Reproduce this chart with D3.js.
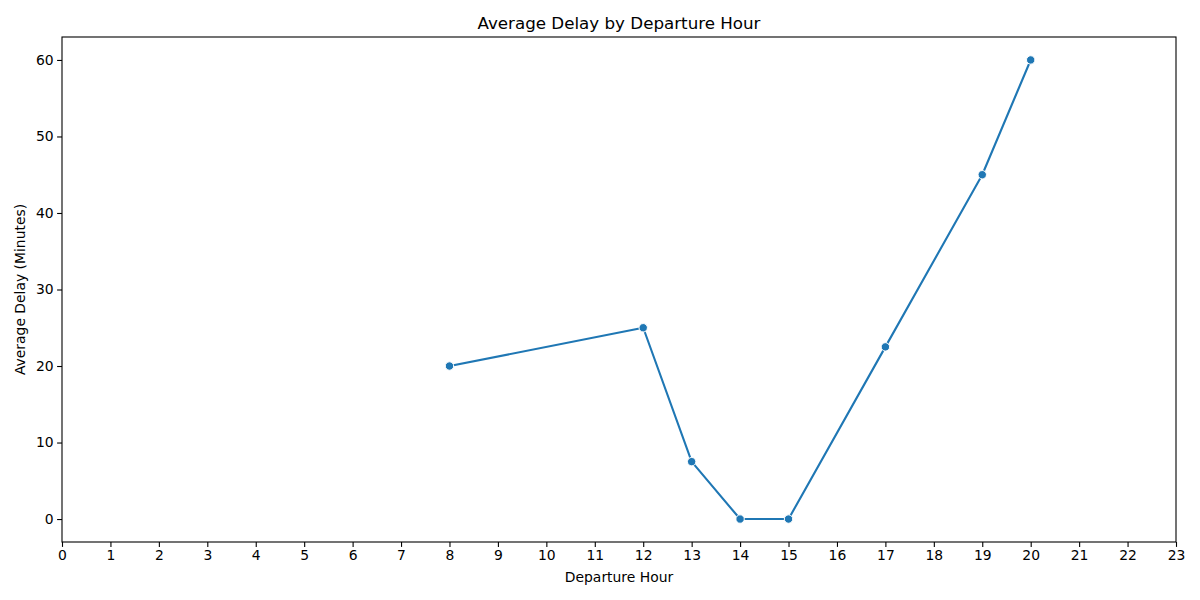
<!DOCTYPE html>
<html>
<head>
<meta charset="utf-8">
<script src="https://cdn.jsdelivr.net/npm/d3@7"></script>
<style>
  body { margin: 0; background: #fff; }
  svg { font-family: "DejaVu Sans", sans-serif; }
</style>
</head>
<body>
<script>
// data
const hours = [8, 12, 13, 14, 15, 17, 19, 20];
const delays = [20, 25, 7.5, 0, 0, 22.5, 45, 60];
const xTicks = d3.range(0, 24);
const yTicks = [0, 10, 20, 30, 40, 50, 60];

const width = 1200, height = 600;
const margin = { top: 37, right: 24, bottom: 58, left: 62 };

const svg = d3.select("body")
  .append("svg")
  .attr("width", width)
  .attr("height", height);

const x = d3.scaleLinear()
  .domain([0, 23])
  .range([margin.left, width - margin.right]);

const y = d3.scaleLinear()
  .domain([-3, 63])
  .range([height - margin.bottom, margin.top]);

const data = hours.map((h, i) => ({ h: h, v: delays[i] }));

// axes
const xAxis = svg.append("g")
  .attr("transform", `translate(0,${height - margin.bottom})`)
  .call(d3.axisBottom(x).tickValues(xTicks).tickFormat(d3.format("d")).tickSize(4.9).tickPadding(3.5));

const yAxis = svg.append("g")
  .attr("transform", `translate(${margin.left},0)`)
  .call(d3.axisLeft(y).tickValues(yTicks).tickFormat(d3.format("d")).tickSize(4.9).tickPadding(3.5));

[xAxis, yAxis].forEach(g => {
  g.select(".domain").remove();
  g.selectAll(".tick line").attr("stroke", "#000").attr("stroke-width", 1.1);
  g.selectAll(".tick text").attr("fill", "#000").style("font-size", "13.9px").style("font-family", "DejaVu Sans");
});

// frame
svg.append("rect")
  .attr("x", margin.left)
  .attr("y", margin.top)
  .attr("width", width - margin.left - margin.right)
  .attr("height", height - margin.top - margin.bottom)
  .attr("fill", "none")
  .attr("stroke", "#000")
  .attr("stroke-width", 1.1);

// line
const line = d3.line()
  .x(d => x(d.h))
  .y(d => y(d.v));

svg.append("path")
  .datum(data)
  .attr("d", line)
  .attr("fill", "none")
  .attr("stroke", "#1f77b4")
  .attr("stroke-width", 2.1)
  .attr("stroke-linejoin", "round")
  .attr("stroke-linecap", "square");

svg.selectAll("circle.pt")
  .data(data)
  .enter()
  .append("circle")
  .attr("class", "pt")
  .attr("cx", d => x(d.h))
  .attr("cy", d => y(d.v))
  .attr("r", 4.2)
  .attr("fill", "#1f77b4")
  .attr("stroke", "#fff")
  .attr("stroke-width", 1);

// texts
svg.append("text")
  .text("Average Delay by Departure Hour")
  .attr("x", (margin.left + width - margin.right) / 2)
  .attr("y", 29)
  .attr("text-anchor", "middle")
  .style("font-size", "16.7px");

svg.append("text")
  .text("Departure Hour")
  .attr("x", (margin.left + width - margin.right) / 2)
  .attr("y", 582)
  .attr("text-anchor", "middle")
  .style("font-size", "13.9px");

svg.append("text")
  .text("Average Delay (Minutes)")
  .attr("transform", `translate(25,${(margin.top + height - margin.bottom) / 2}) rotate(-90)`)
  .attr("text-anchor", "middle")
  .style("font-size", "13.9px");
</script>
</body>
</html>
